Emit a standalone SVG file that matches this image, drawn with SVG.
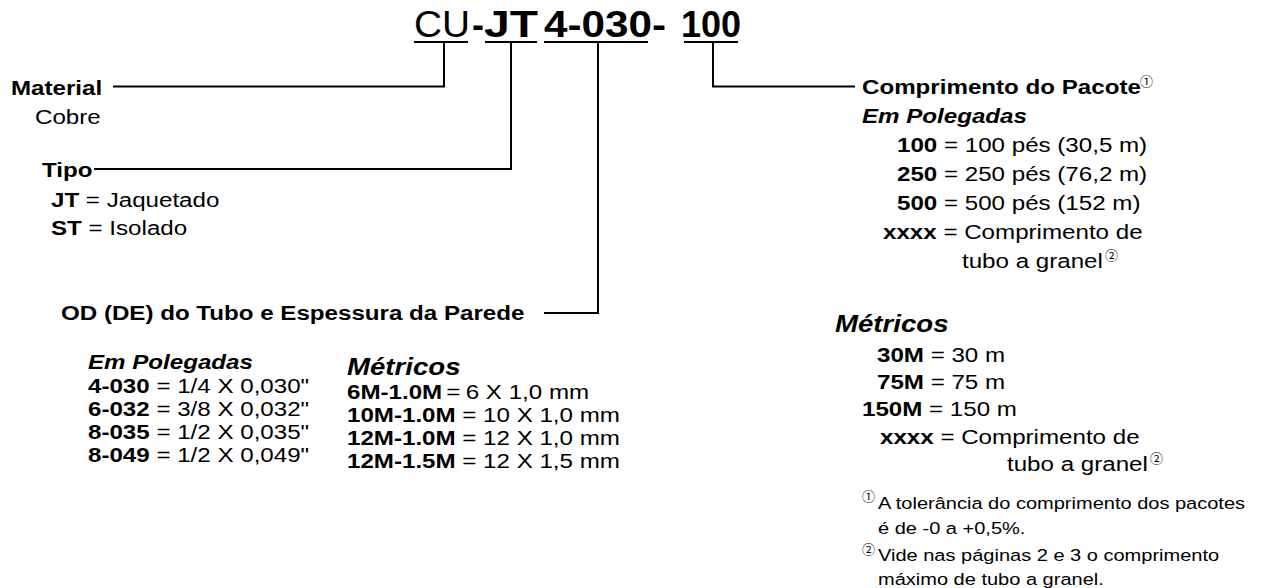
<svg xmlns="http://www.w3.org/2000/svg" width="1261" height="588" viewBox="0 0 1261 588">
<style>
text{font-family:"Liberation Sans",Arial,"Noto Sans CJK JP",sans-serif;fill:#000;font-size:21px}
.b{font-weight:bold}
.bi{font-weight:bold;font-style:italic}
.h{font-size:24px}
.t{font-size:36px}
.fn{font-size:17.4px}
.sup{font-size:13px;font-family:"Noto Sans CJK JP","DejaVu Sans",sans-serif}
.ln{fill:none;stroke:#000;stroke-width:2}
</style>
<rect width="1261" height="588" fill="#fff"/>
<g id="title">
<text class="t" y="37"><tspan x="414" textLength="56" lengthAdjust="spacingAndGlyphs">CU</tspan><tspan class="b" x="472">-</tspan><tspan class="b" x="484" textLength="54" lengthAdjust="spacingAndGlyphs">JT</tspan><tspan class="b" x="544" textLength="122" lengthAdjust="spacingAndGlyphs">4-030-</tspan><tspan class="b" x="681">100</tspan></text>
<path class="ln" d="M414,42H468M485,42H537M544,42H648M684,42H738"/>
</g>
<g id="connectors">
<path class="ln" d="M444,42V86.5H113"/>
<path class="ln" d="M511,42V169H94"/>
<path class="ln" d="M598,42V313H544"/>
<path class="ln" d="M713,42V86.5H855"/>
</g>
<g transform="scale(1.15 1)">
<g id="material">
<text class="b" x="9.57" y="95">Material</text>
<text x="30.43" y="124">Cobre</text>
</g>
<g id="tipo">
<text class="b" x="36.52" y="177">Tipo</text>
<text x="44.35" y="207"><tspan class="b">JT</tspan> = Jaquetado</text>
<text x="44.35" y="235"><tspan class="b">ST</tspan> = Isolado</text>
</g>
<g id="od">
<text class="b" x="53.04" y="320">OD (DE) do Tubo e Espessura da Parede</text>
<text class="bi" x="76.52" y="369">Em Polegadas</text>
<text x="76.52" y="393"><tspan class="b">4-030</tspan> = 1/4 X 0,030"</text>
<text x="76.52" y="416"><tspan class="b">6-032</tspan> = 3/8 X 0,032"</text>
<text x="76.52" y="439"><tspan class="b">8-035</tspan> = 1/2 X 0,035"</text>
<text x="76.52" y="462"><tspan class="b">8-049</tspan> = 1/2 X 0,049"</text>
<text class="bi h" x="301.74" y="375">Métricos</text>
<text x="301.74" y="399"><tspan class="b">6M-1.0M</tspan><tspan x="388">=</tspan><tspan x="405">6 X 1,0 mm</tspan></text>
<text x="301.74" y="422"><tspan class="b">10M-1.0M</tspan> = 10 X 1,0 mm</text>
<text x="301.74" y="445"><tspan class="b">12M-1.0M</tspan> = 12 X 1,0 mm</text>
<text x="301.74" y="468"><tspan class="b">12M-1.5M</tspan> = 12 X 1,5 mm</text>
</g>
<g id="comprimento">
<text class="b" x="749.57" y="94">Comprimento do Pacote</text>
<text class="bi" x="749.57" y="123">Em Polegadas</text>
<text x="780" y="152"><tspan class="b">100</tspan> = 100 pés (30,5 m)</text>
<text x="780" y="181"><tspan class="b">250</tspan> = 250 pés (76,2 m)</text>
<text x="780" y="210"><tspan class="b">500</tspan> = 500 pés (152 m)</text>
<text x="767.83" y="239"><tspan class="b">xxxx</tspan> = Comprimento de</text>
<text x="836.52" y="268">tubo a granel</text>
<text class="bi h" x="726.09" y="332">Métricos</text>
<text x="762.61" y="362"><tspan class="b">30M</tspan> = 30 m</text>
<text x="762.61" y="389"><tspan class="b">75M</tspan> = 75 m</text>
<text x="749.57" y="416"><tspan class="b">150M</tspan> = 150 m</text>
<text x="765.22" y="444"><tspan class="b">xxxx</tspan> = Comprimento de</text>
<text x="875.65" y="471">tubo a granel</text>
</g>
<g id="notas">
<text class="fn" x="763.48" y="509">A tolerância do comprimento dos pacotes</text>
<text class="fn" x="763.48" y="534">é de -0 a +0,5%.</text>
<text class="fn" x="763.48" y="561">Vide nas páginas 2 e 3 o comprimento</text>
<text class="fn" x="763.48" y="585">máximo de tubo a granel.</text>
</g>
</g>
<g id="marcas">
<text class="sup" x="1140" y="86">①</text>
<text class="sup" x="1105" y="260">②</text>
<text class="sup" x="1150" y="463">②</text>
<text class="sup" x="862" y="501">①</text>
<text class="sup" x="862" y="554">②</text>
</g>
</svg>
